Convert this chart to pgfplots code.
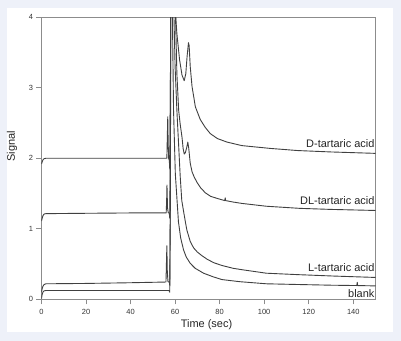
\documentclass[border=0pt]{standalone}
\usepackage{pgfplots}
\pgfplotsset{compat=1.18}
\usepackage{fontspec}
\setmainfont{Liberation Sans}
\definecolor{bgc}{HTML}{EEF1F9}
\definecolor{axc}{HTML}{8C8C8C}
\definecolor{lnc}{HTML}{404040}
\begin{document}
\begin{tikzpicture}[x=1bp,y=1bp]
\fill[bgc] (0,0) rectangle (401,341);
\fill[white] (6.7,9.3) rectangle (393.3,332.7);
\begin{axis}[
  at={(41.5bp,41.7bp)}, anchor=south west,
  scale only axis, width=334bp, height=282bp,
  xmin=0, xmax=150, ymin=0, ymax=4,
  xtick={0,20,...,140}, ytick={0,1,2,3,4},
  tick align=outside, xtick pos=bottom, ytick pos=left,
  major tick length=5bp,
  axis line style={axc, line width=0.9bp},
  every tick/.style={axc, line width=0.9bp},
  /pgf/number format/assume math mode=true,
  ticklabel style={font=\fontsize{7.5}{8}\selectfont, text=black!80},
  xticklabel style={yshift=-1.5bp},
  xlabel={Time (sec)}, ylabel={Signal},
  label style={font=\fontsize{11}{12}\selectfont, text=black!85},
  xlabel style={at={(axis description cs:0.494,-0.0911)}, anchor=center},
  ylabel style={at={(axis description cs:-0.0883,0.542)}, anchor=center},
  trace/.style={lnc, line width=0.9bp, line join=round, mark=none},
]
% D-tartaric acid
\addplot[trace] coordinates {
(0,1.92) (0.3,1.95) (0.7,1.98) (1.2,1.995) (2,2.0) (20,2.0) (40,2.0) (56.3,2.0)
(56.5,2.3) (56.7,2.59) (56.9,2.2) (57.1,2.0) (57.4,1.97) (57.6,1.85) (57.9,3.0) (58.1,5)
(59.9,4.6) (60.3,4.0) (60.8,3.77) (62,3.40) (63.1,3.18) (64.1,3.10) (64.8,3.2) (65.4,3.45)
(66.0,3.64) (66.3,3.6) (66.8,3.30) (67.6,3.02) (69.1,2.73) (71.3,2.55) (73.5,2.44) (75.8,2.35)
(79,2.28) (83.3,2.23) (90,2.18) (102.8,2.14) (115,2.11) (130,2.09) (150,2.07)
};
% DL-tartaric acid
\addplot[trace] coordinates {
(0,1.11) (0.3,1.15) (0.7,1.19) (1.2,1.21) (2,1.215) (20,1.22) (40,1.225) (56.0,1.225)
(56.2,1.4) (56.35,1.62) (56.6,1.3) (56.9,1.23) (57.4,1.22) (57.6,1.15) (57.9,2.5) (58.1,5)
(59.9,4.6) (60.2,4.0) (60.8,3.2) (61.6,2.68) (62.3,2.48) (63.1,2.30) (63.6,2.14) (64.1,2.06)
(64.6,2.08) (65.2,2.15) (65.7,2.23) (66.1,2.15) (66.8,1.93) (67.6,1.81) (68.5,1.74) (69.8,1.66)
(71.5,1.58) (73.6,1.51) (76,1.46) (79,1.43) (82.3,1.40) (82.5,1.44) (82.7,1.40) (86,1.38)
(90,1.36) (101,1.32) (116,1.29) (130,1.275) (150,1.26)
};
% L-tartaric acid
\addplot[trace] coordinates {
(0,0.10) (0.3,0.15) (0.7,0.19) (1.2,0.21) (2,0.22) (20,0.225) (40,0.235) (55.9,0.245)
(56.1,0.5) (56.3,0.76) (56.5,0.4) (56.8,0.25) (57.4,0.245) (57.6,0.2) (57.9,1.5) (58.1,5)
(59.2,4.6) (59.5,4.0) (60.0,3.3) (60.8,2.68) (62.3,1.74) (63,1.40) (64.6,1.1) (65.3,0.98)
(66.8,0.82) (68.3,0.73) (70,0.67) (72,0.62) (74.3,0.57) (77.3,0.52) (81,0.48) (86,0.44)
(90,0.42) (101,0.37) (115,0.35) (131,0.33) (150,0.31)
};
% blank
\addplot[trace] coordinates {
(0,0.01) (0.3,0.07) (0.7,0.105) (1.2,0.12) (2,0.125) (20,0.125) (40,0.125) (57.2,0.125)
(57.4,0.115) (57.6,0.10) (57.8,1.0) (58.0,5)
(58.5,4.6) (58.8,4.0) (59.3,2.68) (60.1,1.78) (61.5,1.1) (62.5,0.87) (63.8,0.70) (65,0.60)
(66.8,0.51) (69,0.44) (72.8,0.37) (77,0.32) (81,0.28) (89,0.25) (101,0.22) (115,0.21)
(130,0.20) (141.6,0.195) (141.8,0.24) (142.0,0.195) (150,0.19)
};
\begin{scope}[every node/.style={font=\fontsize{11}{12}\selectfont, text=black!85, inner sep=0pt, anchor=east}]
\node at (axis cs:149.6,2.204) {D-tartaric acid};
\node at (axis cs:149.6,1.395) {DL-tartaric acid};
\node at (axis cs:149.6,0.454) {L-tartaric acid};
\node at (axis cs:149.6,0.085) {blank};
\end{scope}
\end{axis}
\end{tikzpicture}
\end{document}
